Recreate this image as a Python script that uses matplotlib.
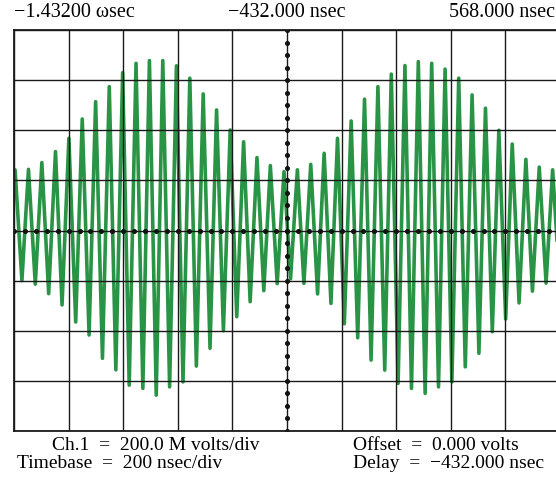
import numpy as np
import matplotlib
matplotlib.use('Agg')
import matplotlib.pyplot as plt

# ---- data (time in ns, amplitude in mV) ----
peak_times = [-1428, -1379, -1330, -1280, -1231, -1182, -1133, -1083, -1034, -985,
              -936, -887, -837, -788, -739, -690, -640, -591, -542, -493,
              -443, -394, -345, -296, -247, -197, -148, -99, -50, 0,
              49, 98, 147, 197, 246, 295, 344, 393, 443, 492, 541]
peak_mv = [242, 244, 271, 315, 368, 445, 514, 574, 630, 667,
           678, 678, 657, 608, 545, 481, 401, 354, 291, 259,
           235, 242, 264, 308, 368, 437, 524, 574, 624, 658,
           674, 667, 644, 608, 541, 488, 400, 345, 284, 253, 242]
trough_times = [-1403, -1354, -1305, -1256, -1206, -1157, -1108, -1059, -1010, -960,
                -911, -862, -813, -764, -714, -665, -616, -567, -517, -468,
                -419, -370, -320, -271, -222, -173, -124, -74, -25, 24,
                74, 123, 172, 221, 271, 320, 369, 418, 467, 517, 566]
trough_mv = [-200, -214, -252, -297, -365, -417, -510, -556, -617, -630,
             -657, -624, -604, -541, -470, -400, -344, -284, -240, -212,
             -193, -211, -253, -291, -372, -428, -517, -557, -610, -630,
             -650, -624, -604, -544, -490, -404, -353, -289, -242, -210, -200]

x_left, x_right = -1432, 568
y_low, y_high = -800, 800
time_per_div = 200
volts_per_div = 200

top_labels = ['\u22121.43200 \u03c9sec', '\u2212432.000 nsec', '568.000 nsec']
info_left = ['Ch.1  =  200.0 M volts/div', 'Timebase  =  200 nsec/div']
info_right = ['Offset  =  0.000 volts', 'Delay  =  \u2212432.000 nsec']

# ---- figure ----
W, H = 556, 482
fig = plt.figure(figsize=(W / 100, H / 100), dpi=100)
fig.patch.set_facecolor('white')
ax = fig.add_axes([14 / W, 1 - 431 / H, 546 / W, 401 / H])
ax.set_xlim(x_left, x_right)
ax.set_ylim(y_low, y_high)
ax.set_xticks([])
ax.set_yticks([])

grid_c = '#1a1a1a'
for s in ax.spines.values():
    s.set_color(grid_c)
    s.set_linewidth(1.3)
    s.set_zorder(4)

# trace: alternate peaks and troughs
t = []
v = []
for i in range(len(peak_times)):
    t.append(peak_times[i]); v.append(peak_mv[i])
    if i < len(trough_times):
        t.append(trough_times[i]); v.append(trough_mv[i])
ax.plot(t, v, color='#2a9446', lw=2.6, solid_joinstyle='round',
        solid_capstyle='round', zorder=2)

# graticule
for gx in np.arange(x_left, x_right + 1, time_per_div):
    ax.axvline(gx, color=grid_c, lw=1.0, zorder=3)
for gy in np.arange(y_low, y_high + 1, volts_per_div):
    ax.axhline(gy, color=grid_c, lw=1.0, zorder=3)

# centre-line minor marks
cx = x_left + 5 * time_per_div
hx = np.arange(x_left, x_right + 1, time_per_div / 5)
ax.plot(hx, np.zeros_like(hx), ls='none', marker='o', ms=2.6,
        color='#111111', zorder=4)
vy = np.arange(y_low, y_high + 1, volts_per_div / 4)
ax.plot(np.full_like(vy, cx, dtype=float), vy, ls='none', marker='o', ms=2.6,
        color='#111111', zorder=4)

# ---- text ----
fam = ['Liberation Serif', 'DejaVu Serif']
fs_top = 14.5
fig.text(14 / W, 1 - 17 / H, top_labels[0], ha='left', va='baseline',
         fontsize=fs_top, family=fam)
fig.text(287 / W, 1 - 17 / H, top_labels[1], ha='center', va='baseline',
         fontsize=fs_top, family=fam)
fig.text(449 / W, 1 - 17 / H, top_labels[2], ha='left', va='baseline',
         fontsize=fs_top, family=fam)

fs_bot = 14
fig.text(52 / W, 1 - 450 / H, info_left[0], ha='left', va='baseline',
         fontsize=fs_bot, family=fam)
fig.text(17 / W, 1 - 468 / H, info_left[1], ha='left', va='baseline',
         fontsize=fs_bot, family=fam)
fig.text(353 / W, 1 - 450 / H, info_right[0], ha='left', va='baseline',
         fontsize=fs_bot, family=fam)
fig.text(353 / W, 1 - 468 / H, info_right[1], ha='left', va='baseline',
         fontsize=fs_bot, family=fam)

fig.savefig('out.png', dpi=100, facecolor='white')
